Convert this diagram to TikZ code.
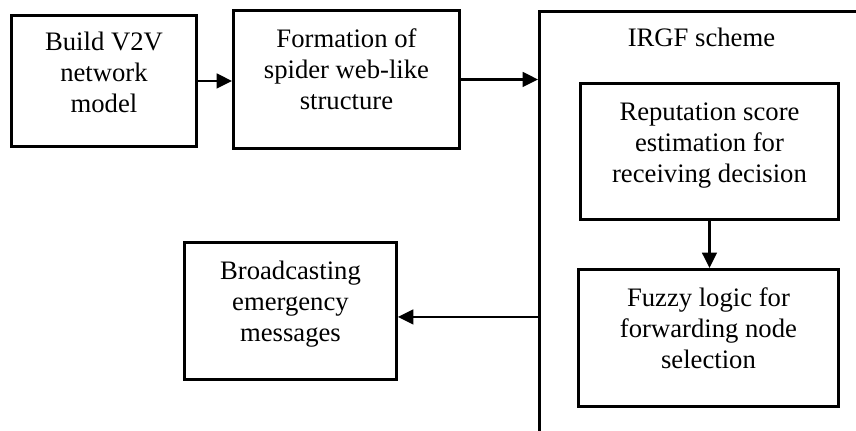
\documentclass[tikz,border=0pt]{standalone}
\usepackage{fontspec}
\setmainfont{Liberation Serif}
\usetikzlibrary{arrows.meta,positioning}

\begin{document}
\begin{tikzpicture}[x=0.75pt, y=-0.75pt,
        stepbox/.style = {draw, line width=2.2pt, align=center, anchor=north west,
            inner xsep=0pt, inner ysep=0pt, text height=74.5pt, text depth=28pt,
            font=\fontsize{20pt}{23.25pt}\selectfont},
        flow/.style = {line width=1.7pt, -{Triangle[length=11.5pt,width=11pt]}}]
    \useasboundingbox (0,0) rectangle (856,431);
    \clip (0,0) rectangle (856,431);
    % outer scheme box runs off the page
    \node [stepbox, minimum width=243pt, text height=26.25pt, text depth=400pt] (irgf) at (538,10) {IRGF scheme};
    \node [stepbox, minimum width=138.75pt, text height=73pt, text depth=25.25pt] (build) at (10,14) {Build V2V\\network\\model};
    \node [stepbox, minimum width=169.5pt, text depth=29pt] (formation) at (232,9) {Formation of\\spider web-like\\structure};
    \node [stepbox, minimum width=193.5pt, text depth=27.5pt] (repute) at (579,82) {Reputation score\\estimation for\\receiving decision};
    \node [stepbox, minimum width=195pt, text depth=28.25pt] (fuzzy) at (577,268) {Fuzzy logic for\\forwarding node\\selection};
    \node [stepbox, minimum width=159pt, text depth=28.25pt] (broadcast) at (183,241) {Broadcasting\\emergency\\messages};
    \coordinate (bcin) at ([yshift=-4.5pt]broadcast.east);
    \draw [flow] (build.east) -- (build.east -| formation.west);
    \draw [flow] (formation.east) -- (formation.east -| irgf.west);
    \draw [flow] (repute.south) -- (repute.south |- fuzzy.north);
    \draw [flow] (irgf.west |- bcin) -- (bcin);
\end{tikzpicture}
\end{document}
